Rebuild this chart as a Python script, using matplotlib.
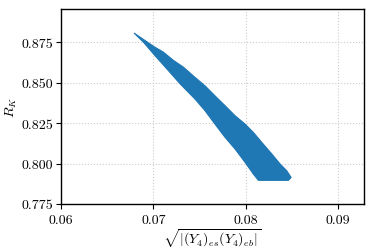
import matplotlib
matplotlib.use("Agg")
import matplotlib.pyplot as plt

plt.rcParams['font.family'] = 'serif'
plt.rcParams['font.serif'] = ['cmr10', 'DejaVu Serif']
plt.rcParams['mathtext.fontset'] = 'cm'
plt.rcParams['axes.formatter.use_mathtext'] = True

# Boundary of the scanned region
upper_x = [0.06791, 0.07015, 0.07108, 0.07217, 0.07325, 0.07452, 0.07560,
           0.07668, 0.07777, 0.07885, 0.07994, 0.08083, 0.08174, 0.08283,
           0.08373, 0.08445, 0.08492]
upper_y = [0.8808, 0.8721, 0.8690, 0.8639, 0.8597, 0.8533, 0.8481,
           0.8419, 0.8358, 0.8296, 0.8244, 0.8193, 0.8131, 0.8059,
           0.7997, 0.7955, 0.7914]
lower_x = [0.06791, 0.06892, 0.07015, 0.07145, 0.07289, 0.07452, 0.07560,
           0.07668, 0.07777, 0.07885, 0.07994, 0.08083, 0.08138, 0.08463,
           0.08492]
lower_y = [0.8808, 0.8752, 0.8670, 0.8587, 0.8494, 0.8399, 0.8327,
           0.8244, 0.8162, 0.8090, 0.8007, 0.7935, 0.7896, 0.7896,
           0.7914]

xticks = [0.06, 0.07, 0.08, 0.09]
yticks = [0.775, 0.800, 0.825, 0.850, 0.875]

fig = plt.figure(figsize=(3.74, 2.53), dpi=100)
ax = fig.add_axes([0.163, 0.19, 0.81, 0.77])

poly_x = upper_x + lower_x[::-1]
poly_y = upper_y + lower_y[::-1]
ax.fill(poly_x, poly_y, color='#1f77b4', lw=0.8, ec='#1f77b4', zorder=3)

ax.set_xlim(0.06, 0.0928)
ax.set_ylim(0.775, 0.8956)
ax.set_xticks(xticks)
ax.set_xticklabels(['0.06', '0.07', '0.08', '0.09'])
ax.set_yticks(yticks)
ax.set_yticklabels(['0.775', '0.800', '0.825', '0.850', '0.875'])
ax.grid(True, ls=':', color='#cccccc', lw=0.8, zorder=0)
ax.tick_params(direction='out', length=3.5, width=0.8, labelsize=10)
ax.tick_params(axis='y', pad=2)
for s in ax.spines.values():
    s.set_linewidth(1.0)
ax.set_xlabel(r'$\sqrt{|(Y_4)_{es}(Y_4)_{eb}|}$', fontsize=10, labelpad=0)
ax.set_ylabel(r'$R_K$', fontsize=10, labelpad=2)

fig.savefig('out.png', dpi=100)
